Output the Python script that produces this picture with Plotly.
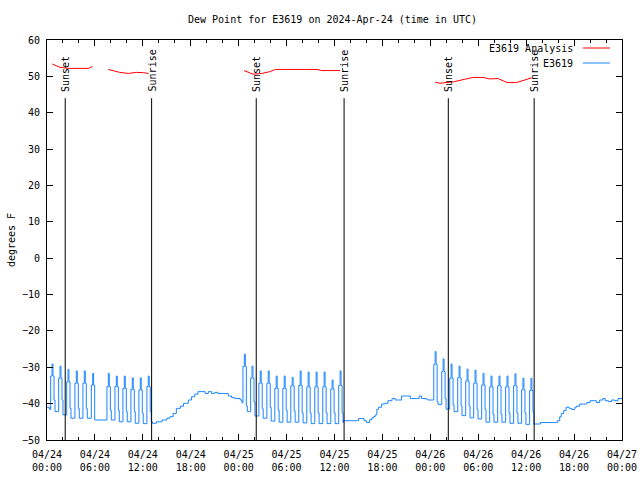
import plotly.graph_objects as go
import pandas as pd

BASE = pd.Timestamp("2024-04-24 00:00")

# ---------------- data (hours since 04/24 00:00 UTC) ----------------
# Observed station E3619 - daytime / smooth parts
day_hours = [0.0, 0.3,
             13.1, 13.2, 13.7, 14.4, 15.0, 15.4, 15.8, 16.2, 16.7, 17.1, 17.7, 18.1, 18.5, 18.9,
             19.4, 19.8, 20.2, 20.6, 21.0, 21.4, 22.3, 22.7, 23.1, 23.5, 24.2, 24.42,
             37.1, 38.8, 39.0, 39.4, 39.7, 40.0, 40.4, 40.7, 40.9, 41.1, 41.3, 41.5, 41.9, 42.3,
             42.7, 43.2, 43.6, 44.0, 44.4, 45.0, 45.5, 46.3, 46.6, 46.9, 47.5, 47.7, 48.2,
             61.0, 61.8, 63.7, 63.9, 64.2, 64.4, 64.7, 65.0, 65.4, 65.7, 66.1, 66.3, 66.7, 67.2,
             67.6, 68.0, 68.5, 68.8, 69.2, 69.6, 69.9, 70.3, 70.7, 71.1, 71.5, 72.0]
day_values = [-41.0, -41.6,
              -45.0, -45.4, -45.0, -44.5, -44.0, -43.6, -42.7, -41.3, -40.7, -39.9, -39.0, -38.1, -37.4, -36.7,
              -36.7, -37.2, -36.7, -37.2, -36.9, -37.2, -37.2, -37.9, -38.3, -38.6, -39.0, -39.8,
              -44.7, -44.7, -44.1, -44.1, -44.7, -45.2, -44.4, -43.9, -43.6, -43.1, -41.6, -41.0, -40.1, -39.9,
              -39.2, -38.6, -39.0, -39.0, -37.9, -37.9, -38.6, -38.6, -37.9, -38.6, -38.8, -39.0, -39.0,
              -45.6, -45.2, -45.2, -44.7, -43.6, -42.7, -41.9, -41.0, -41.3, -41.6, -41.0, -40.7, -40.1, -40.1,
              -39.7, -39.2, -39.2, -39.7, -39.0, -38.6, -39.2, -39.4, -39.0, -39.2, -38.6, -38.6]

# Night-time hourly pulses: hour of peak, shoulder level, peak, level after, base level
spike_hours = [0.63, 1.63, 2.63, 3.67, 4.67, 5.72, 7.68, 8.68, 9.68, 10.68, 11.68, 12.68,
               24.71, 25.67, 26.7, 27.7, 28.7, 29.7, 30.7, 31.7, 32.7, 33.7, 34.7, 35.7, 36.7,
               48.6, 49.6, 50.6, 51.6, 52.6, 53.6, 54.6, 55.6, 56.6, 57.6, 58.6, 59.6, 60.6]
spike_mid = [-32.4, -33.0, -34.0, -34.4, -34.4, -34.9, -35.3, -35.3, -35.8, -36.1, -36.3, -35.3,
             -29.8, -33.0, -34.4, -34.4, -35.8, -35.8, -35.1, -35.0, -35.4, -35.4, -35.4, -36.0, -35.0,
             -29.2, -31.2, -33.0, -32.9, -33.8, -34.4, -34.9, -35.4, -35.1, -35.4, -35.1, -36.2, -36.4]
spike_peak = [-29.1, -29.7, -30.6, -31.0, -31.0, -31.7, -31.7, -32.4, -32.4, -32.9, -32.9, -32.4,
              -26.4, -29.7, -31.0, -31.0, -32.4, -32.4, -32.8, -31.0, -31.3, -31.3, -31.3, -33.5, -31.0,
              -25.7, -27.7, -29.1, -29.7, -30.5, -30.8, -31.7, -32.4, -32.4, -32.4, -31.8, -33.0, -33.0]
spike_low = [-39.0, -39.0, -41.3, -41.3, -41.3, -44.5, -41.8, -41.8, -42.2, -42.2, -42.6, -42.2,
             -40.6, -39.5, -41.3, -41.0, -41.8, -41.8, -42.0, -42.5, -42.5, -42.5, -42.5, -42.5, -42.5,
             -39.5, -38.6, -40.4, -40.6, -40.6, -41.5, -41.5, -42.9, -42.9, -42.6, -42.6, -42.6, -42.2]
spike_base = [-42.2, -43.1, -44.0, -44.0, -44.0, -44.5, -44.5, -45.0, -45.0, -45.4, -45.5, -45.0,
              -42.2, -43.4, -44.0, -44.8, -45.1, -45.1, -45.1, -45.3, -45.5, -45.5, -45.5, -45.5, -45.2,
              -40.2, -41.5, -42.2, -43.3, -43.9, -44.2, -45.1, -45.1, -45.1, -45.4, -45.4, -45.7, -45.7]
pulse_offsets = [-0.17, 0.0, 0.12, 0.25, 0.37]  # timing of the steps within one pulse (hours)

# Analysis series (None = gap)
red_hours = [0.66, 1.6, 2.6, 3.6, 4.6, 5.2, 5.7, None,
             7.68, 8.3, 9.1, 10.2, 11.2, 12.1, 12.7, None,
             24.67, 25.8, 26.9, 27.9, 28.6, 33.8, 34.4, 36.7, None,
             48.6, 49.2, 50.9, 52.1, 53.3, 54.6, 55.4, 56.5, 57.6, 58.8, 59.6, 60.7]
red_values = [53.4, 52.5, 52.2, 52.2, 52.2, 52.2, 52.7, None,
              51.9, 51.5, 51.1, 50.8, 51.1, 51.0, 50.8, None,
              51.6, 50.6, 50.8, 51.3, 51.9, 51.9, 51.6, 51.6, None,
              48.4, 48.1, 48.5, 49.2, 49.7, 49.7, 49.3, 49.4, 48.3, 48.3, 48.8, 49.6]

sun_hours = [2.28, 13.1, 26.2, 37.2, 50.25, 61.0]
sun_labels = ["Sunset", "Sunrise", "Sunset", "Sunrise", "Sunset", "Sunrise"]
sun_line_top = 44

tick_hours = [0, 6, 12, 18, 24, 30, 36, 42, 48, 54, 60, 66, 72]
tick_labels = ["04/24<br>00:00", "04/24<br>06:00", "04/24<br>12:00", "04/24<br>18:00",
               "04/25<br>00:00", "04/25<br>06:00", "04/25<br>12:00", "04/25<br>18:00",
               "04/26<br>00:00", "04/26<br>06:00", "04/26<br>12:00", "04/26<br>18:00",
               "04/27<br>00:00"]

TITLE = "Dew Point for E3619 on 2024-Apr-24 (time in UTC)"
RED = "#ff0000"
BLUE = "#1a85ff"
FONT = "DejaVu Sans Mono"


def to_time(h):
    return None if h is None else BASE + pd.Timedelta(hours=h)


# assemble observed series
pts = list(zip(day_hours, day_values))
levels = list(zip(spike_mid, spike_peak, spike_mid, spike_low, spike_base))
for h, lv in zip(spike_hours, levels):
    for off, v in zip(pulse_offsets, lv):
        pts.append((h + off, v))
pts.sort(key=lambda p: p[0])
obs_x = [to_time(p[0]) for p in pts]
obs_y = [p[1] for p in pts]

fig = go.Figure()
fig.add_trace(go.Scatter(x=obs_x, y=obs_y, mode="lines",
                         line=dict(color=BLUE, width=1, shape="hv"), showlegend=False))
fig.add_trace(go.Scatter(x=[to_time(h) for h in red_hours], y=red_values, mode="lines",
                         line=dict(color=RED, width=1), connectgaps=False, showlegend=False))

for h, lab in zip(sun_hours, sun_labels):
    fig.add_shape(type="line", xref="x", yref="y", x0=to_time(h), x1=to_time(h),
                  y0=-50, y1=sun_line_top, line=dict(color="black", width=1))
    fig.add_annotation(x=to_time(h), y=sun_line_top + 1.2, xref="x", yref="y", text=lab,
                       textangle=-90, showarrow=False, xanchor="center", yanchor="bottom",
                       xshift=1, font=dict(family=FONT, size=10, color="black"))

# legend (gnuplot style: text right-aligned, sample on the right)
for name, col, yp in [("E3619 Analysis", RED, 0.98), ("E3619", BLUE, 0.9425)]:
    fig.add_annotation(x=0.918, y=yp, xref="paper", yref="paper", text=name, showarrow=False,
                       xanchor="right", yanchor="middle",
                       font=dict(family=FONT, size=10, color="black"))
    fig.add_shape(type="line", xref="paper", yref="paper", x0=0.932, x1=0.979, y0=yp, y1=yp,
                  line=dict(color=col, width=1))

# title as annotation for exact placement
fig.add_annotation(x=0.497, y=1.05, xref="paper", yref="paper", text=TITLE, showarrow=False,
                   xanchor="center", yanchor="middle",
                   font=dict(family=FONT, size=10, color="black"))

fig.update_layout(
    width=640, height=480,
    margin=dict(l=47, r=18, t=40, b=40),
    paper_bgcolor="white", plot_bgcolor="white",
    font=dict(family=FONT, size=10, color="black"),
    showlegend=False,
)
fig.update_xaxes(
    type="date", range=[to_time(0), to_time(72)], automargin=False,
    tickvals=[to_time(h) for h in tick_hours], ticktext=tick_labels,
    ticks="inside", ticklen=6, tickcolor="black", tickwidth=1, ticklabelstandoff=5,
    minor=dict(dtick=2 * 3600 * 1000, ticks="inside", ticklen=3, tickcolor="black", tickwidth=1),
    showline=True, linecolor="black", linewidth=1, mirror="allticks",
    showgrid=False, zeroline=False,
)
fig.update_yaxes(
    range=[-50, 60], dtick=10, tick0=0, automargin=False,
    ticks="inside", ticklen=6, tickcolor="black", tickwidth=1, ticklabelstandoff=4,
    showline=True, linecolor="black", linewidth=1, mirror="allticks",
    showgrid=False, zeroline=False,
    title=dict(text="degrees F", standoff=4, font=dict(family=FONT, size=10)),
)

# place the figure at the window corner (no page margin / scrollbars), no mode bar
fig.write_html("out.html", config={"displayModeBar": False},
               post_script="document.body.style.margin='0';document.body.style.overflow='hidden';")
